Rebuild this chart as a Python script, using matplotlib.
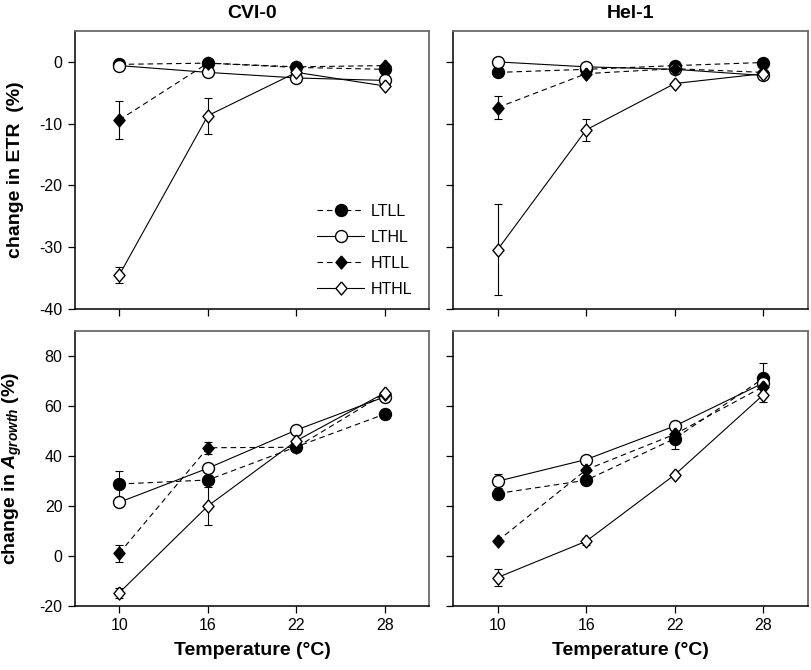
import matplotlib
matplotlib.use("Agg")
import matplotlib.pyplot as plt
import numpy as np

plt.rcParams['font.family'] = ['Liberation Sans', 'DejaVu Sans']
plt.rcParams['mathtext.fontset'] = 'custom'
plt.rcParams['mathtext.rm'] = 'Liberation Sans:bold'
plt.rcParams['mathtext.it'] = 'Liberation Sans:bold:italic'
plt.rcParams['mathtext.bf'] = 'Liberation Sans:bold'
plt.rcParams['axes.unicode_minus'] = False

# ---------------- data ----------------
temps = [10, 16, 22, 28]
xticks = [10, 16, 22, 28]
series_names = ["LTLL", "LTHL", "HTLL", "HTHL"]
col_titles = ["CVI-0", "Hel-1"]

# change in ETR (%)
cvi_etr_ltll = [-0.4, -0.2, -0.9, -1.2]
cvi_etr_lthl = [-0.6, -1.7, -2.6, -3.0]
cvi_etr_htll = [-9.4, -0.2, -0.8, -0.6]
cvi_etr_hthl = [-34.5, -8.7, -1.7, -3.9]
cvi_etr_ltll_err = [0, 0, 0, 0]
cvi_etr_lthl_err = [0, 0, 0, 0]
cvi_etr_htll_err = [3.1, 0, 0, 0]
cvi_etr_hthl_err = [1.3, 2.9, 0, 0]

hel_etr_ltll = [-1.7, -1.2, -0.6, -0.1]
hel_etr_lthl = [0.0, -0.8, -1.2, -2.2]
hel_etr_htll = [-7.4, -1.9, -1.1, -1.7]
hel_etr_hthl = [-30.4, -11.0, -3.5, -1.9]
hel_etr_ltll_err = [0, 0, 0.5, 0]
hel_etr_lthl_err = [0, 0, 0, 0]
hel_etr_htll_err = [1.9, 0, 0, 0]
hel_etr_hthl_err = [7.4, 1.8, 0, 0]

# change in A_growth (%)
cvi_ag_ltll = [28.8, 30.4, 43.7, 56.8]
cvi_ag_lthl = [21.5, 35.1, 50.4, 63.7]
cvi_ag_htll = [1.1, 43.3, 43.5, 65.0]
cvi_ag_hthl = [-14.7, 20.0, 46.1, 65.3]
cvi_ag_ltll_err = [5.2, 0, 0, 2.0]
cvi_ag_lthl_err = [0, 0, 0, 0]
cvi_ag_htll_err = [3.4, 2.5, 0, 0]
cvi_ag_hthl_err = [2.0, 7.5, 0, 0]

hel_ag_ltll = [25.0, 30.3, 47.0, 71.1]
hel_ag_lthl = [29.9, 38.6, 52.0, 69.2]
hel_ag_htll = [6.0, 34.5, 48.7, 67.8]
hel_ag_hthl = [-8.6, 5.9, 32.5, 64.5]
hel_ag_ltll_err = [2.0, 0, 4.0, 6.0]
hel_ag_lthl_err = [2.8, 0, 0, 0]
hel_ag_htll_err = [0, 0, 0, 0]
hel_ag_hthl_err = [3.3, 1.5, 0, 3.0]

panels = [
    [(cvi_etr_ltll, cvi_etr_lthl, cvi_etr_htll, cvi_etr_hthl),
     (cvi_etr_ltll_err, cvi_etr_lthl_err, cvi_etr_htll_err, cvi_etr_hthl_err)],
    [(hel_etr_ltll, hel_etr_lthl, hel_etr_htll, hel_etr_hthl),
     (hel_etr_ltll_err, hel_etr_lthl_err, hel_etr_htll_err, hel_etr_hthl_err)],
    [(cvi_ag_ltll, cvi_ag_lthl, cvi_ag_htll, cvi_ag_hthl),
     (cvi_ag_ltll_err, cvi_ag_lthl_err, cvi_ag_htll_err, cvi_ag_hthl_err)],
    [(hel_ag_ltll, hel_ag_lthl, hel_ag_htll, hel_ag_hthl),
     (hel_ag_ltll_err, hel_ag_lthl_err, hel_ag_htll_err, hel_ag_hthl_err)],
]

# ---------------- styles ----------------
diamond = [(0, 1), (0.85, 0), (0, -1), (-0.85, 0), (0, 1)]
dash = (0, (5, 3.5))
styles = [
    dict(marker='o', ms=8.6, mfc='black', mec='black', ls=dash),
    dict(marker='o', ms=8.6, mfc='white', mec='black', ls='-'),
    dict(marker=diamond, ms=9.4, mfc='black', mec='black', ls=dash),
    dict(marker=diamond, ms=9.4, mfc='white', mec='black', ls='-'),
]

W, H = 812, 670
fig = plt.figure(figsize=(W / 100, H / 100), dpi=100)

def ax_rect(x0, y0, x1, y1):
    return [x0 / W, 1 - y1 / H, (x1 - x0) / W, (y1 - y0) / H]

rects = [ax_rect(75, 31, 429.3, 309), ax_rect(453.3, 31, 807.7, 309),
         ax_rect(75, 331, 429.3, 606), ax_rect(453.3, 331, 807.7, 606)]
ylims = [(-40, 5), (-40, 5), (-20, 90), (-20, 90)]
yticks_list = [[-40, -30, -20, -10, 0], [-40, -30, -20, -10, 0],
               [-20, 0, 20, 40, 60, 80], [-20, 0, 20, 40, 60, 80]]

axes = []
for i, (rect, (vals, errs)) in enumerate(zip(rects, panels)):
    ax = fig.add_axes(rect)
    axes.append(ax)
    for k, (v, e, st) in enumerate(zip(vals, errs, styles)):
        ax.errorbar(temps, v, yerr=e, fmt='none', ecolor='black',
                    elinewidth=0.8, capsize=2.7, capthick=0.8, zorder=2 + k * 0.1)
        ax.plot(temps, v, color='black', lw=0.8, mew=1.0, zorder=3 + k * 0.1,
                label=series_names[k], **st)
    ax.set_xlim(7, 31)
    ax.set_ylim(*ylims[i])
    ax.set_xticks(xticks)
    ax.set_yticks(yticks_list[i])
    ax.tick_params(direction='out', length=5, width=0.9, labelsize=11.5, pad=4)
    for s in ['top', 'right']:
        ax.spines[s].set_color('#6a6a6a')
        ax.spines[s].set_linewidth(1.3)
    for s in ['bottom', 'left']:
        ax.spines[s].set_color('black')
        ax.spines[s].set_linewidth(1.1)
    if i % 2 == 1:
        ax.set_yticklabels([])
    if i < 2:
        ax.set_xticklabels([])
    else:
        ax.set_xlabel('Temperature (°C)', fontsize=14, fontweight='bold', labelpad=6)

axes[0].set_ylabel('change in ETR  (%)', fontsize=14, fontweight='bold')
axes[2].set_ylabel(r'change in $A_{growth}$ (%)', fontsize=14, fontweight='bold')
for ax in (axes[0], axes[2]):
    ax.yaxis.set_label_coords(-0.145, 0.5)

for j, t in enumerate(col_titles):
    r = rects[j]
    fig.text(r[0] + r[2] / 2, 1 - 14 / H, t, ha='center', va='center',
             fontsize=14, fontweight='bold')

leg = axes[0].legend(loc='lower right', bbox_to_anchor=(0.98, 0.01), frameon=False,
                     fontsize=11.5, handlelength=2.9, handletextpad=0.45,
                     labelspacing=0.68, borderaxespad=0.2)

fig.savefig('out.png', dpi=100)
